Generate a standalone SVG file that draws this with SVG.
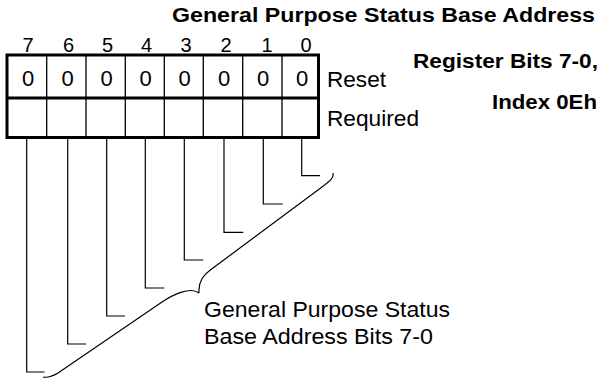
<svg xmlns="http://www.w3.org/2000/svg" width="604" height="380" viewBox="0 0 604 380">
<style>
text{font-family:"Liberation Sans",Arial,sans-serif;fill:#000}
.b{font-weight:bold;font-size:20px}
.n{font-size:20px;text-anchor:middle}
.v{font-size:22px;text-anchor:middle}
.l{font-size:21.5px}
.t{font-size:22.5px}
.thick{fill:none;stroke:#000;stroke-width:3}
.thin{fill:none;stroke:#000;stroke-width:1.3}
.wire{fill:none;stroke:#000;stroke-width:1.2}
</style>
<rect width="604" height="380" fill="#fff"/>
<g id="title">
<text class="b" x="172" y="22" textLength="423" lengthAdjust="spacingAndGlyphs">General Purpose Status Base Address</text>
<text class="b" x="413" y="68" textLength="185" lengthAdjust="spacingAndGlyphs">Register Bits 7-0,</text>
<text class="b" x="492" y="108.5" textLength="105" lengthAdjust="spacingAndGlyphs">Index 0Eh</text>
</g>
<g id="register">
<g id="bit-numbers">
<text class="n" x="28" y="52">7</text>
<text class="n" x="68.5" y="52">6</text>
<text class="n" x="107.5" y="52">5</text>
<text class="n" x="146.5" y="52">4</text>
<text class="n" x="186" y="52">3</text>
<text class="n" x="226" y="52">2</text>
<text class="n" x="267" y="52">1</text>
<text class="n" x="306" y="52">0</text>
</g>
<rect class="thick" x="7" y="55" width="311.5" height="82.5"/>
<line class="thick" x1="7" y1="98" x2="318.5" y2="98"/>
<path class="thin" d="M46.7 55V137.5M86 55V137.5M125.3 55V137.5M164.3 55V137.5M203.3 55V137.5M242.7 55V137.5M282 55V137.5"/>
<g id="reset-values">
<text class="v" x="28" y="85.5">0</text>
<text class="v" x="67.5" y="85.5">0</text>
<text class="v" x="106.5" y="85.5">0</text>
<text class="v" x="145.5" y="85.5">0</text>
<text class="v" x="184.5" y="85.5">0</text>
<text class="v" x="224" y="85.5">0</text>
<text class="v" x="263" y="85.5">0</text>
<text class="v" x="302" y="85.5">0</text>
</g>
<text class="l" x="327" y="87" textLength="59" lengthAdjust="spacingAndGlyphs">Reset</text>
<text class="l" x="327" y="126" textLength="92" lengthAdjust="spacingAndGlyphs">Required</text>
</g>
<g id="connectors">
<path class="wire" d="M26.7 139V372H44.5"/>
<path class="wire" d="M67.7 139V344H86"/>
<path class="wire" d="M106.7 139V316H125"/>
<path class="wire" d="M145.3 139V288H164.3"/>
<path class="wire" d="M184.3 139V260H203.3"/>
<path class="wire" d="M224 139V232.3H243.3"/>
<path class="wire" d="M263.3 139V204H282.7"/>
<path class="wire" d="M301.7 139V175.7H320"/>
<path class="wire" d="M43 377C48 378 53 376 58 373L162 302C172 295.2 190 286 199 293"/>
<path class="wire" d="M199 293C198 282 203 275 213 268L322 187C330 181 334 178 333 173"/>
</g>
<g id="label">
<text class="t" x="204" y="316.5" textLength="246" lengthAdjust="spacingAndGlyphs">General Purpose Status</text>
<text class="t" x="204" y="343.5" textLength="229" lengthAdjust="spacingAndGlyphs">Base Address Bits 7-0</text>
</g>
</svg>
